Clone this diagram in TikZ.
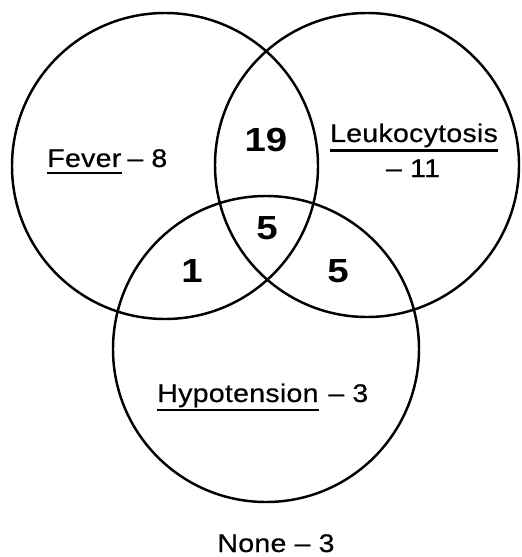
\documentclass[tikz,border=0pt]{standalone}
\usepackage{fontspec}
\setmainfont{Liberation Sans}
\newfontfamily\lblfont{Liberation Sans}[Ligatures=TeX,FakeStretch=1.12,LetterSpace=1,FakeBold=0.5]
\newfontfamily\cntfont{Liberation Sans Bold}[FakeStretch=1.15]
\usetikzlibrary{positioning}
\tikzset{
  ring/.style={line width=1.4pt},
  uline/.style={line width=1.5pt},
  lbl/.style={inner sep=0pt,font=\lblfont\fontsize{14.5}{17}\selectfont},
  cnt/.style={inner sep=0pt,font=\cntfont\fontsize{19}{22}\selectfont}
}
\begin{document}
\begin{tikzpicture}[x=0.02cm,y=-0.02cm]
 \useasboundingbox (0,0) rectangle (521,557);
 % circles
 \draw[ring] (165,166) circle[radius=153];
 \draw[ring] (367,165) circle[radius=152];
 \draw[ring] (266,349) circle[radius=153];
 % labels
 \node[lbl,anchor=base west] (fev) at (47,167) {Fever};
 \node[lbl,anchor=base west] (fevn) at (127,167) {\textendash\ 8};
 \node[lbl,anchor=base] (leu) at (414,142) {Leukocytosis};
 \node[lbl,anchor=base] (leun) at (413,177) {\textendash\ 11};
 \node[lbl,anchor=base west] (hyp) at (157,402) {Hypotension};
 \node[lbl,anchor=base west] (hypn) at (328,402) {\textendash\ 3};
 \node[lbl,anchor=base] (none) at (276,552) {None \textendash\ 3};
 \draw[uline] ([yshift=-3.4pt]fev.base west) -- ([yshift=-3.4pt]fev.base east);
 \draw[uline] ([yshift=-5pt]leu.base west) -- ([yshift=-5pt]leu.base east);
 \draw[uline] ([yshift=-4.5pt]hyp.base west) -- ([yshift=-4.5pt]hyp.base east);
 % counts
 \node[cnt] (fl) at (266,140) {19};
 \node[cnt] (all) at (267,228) {5};
 \node[cnt] (fh) at (192,271) {1};
 \node[cnt] (lh) at (338,271) {5};
\end{tikzpicture}
\end{document}
